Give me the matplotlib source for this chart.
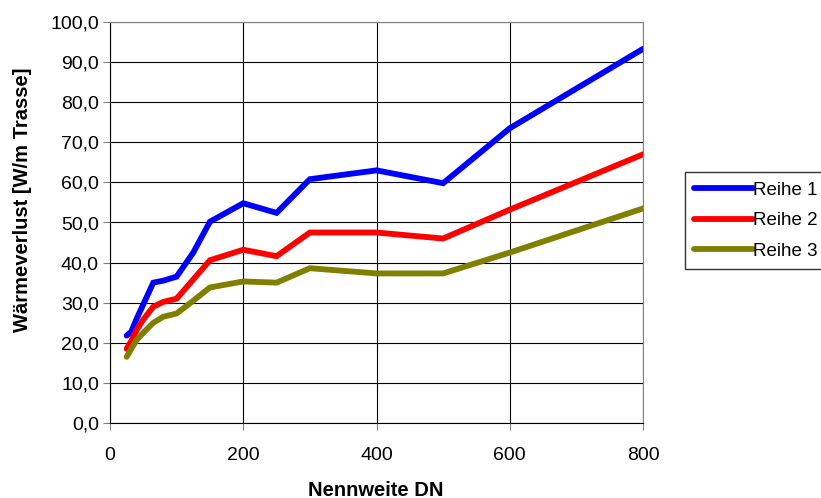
import matplotlib.pyplot as plt
from matplotlib.ticker import FuncFormatter

plt.rcParams['font.family'] = ['Liberation Sans', 'DejaVu Sans']

# Nennweite DN and heat loss per metre of trench for the three series
dn = [25, 32, 40, 50, 65, 80, 100, 125, 150, 200, 250, 300, 400, 500, 600, 800]
reihe_1 = [21.8, 22.8, 26.0, 29.6, 35.0, 35.5, 36.5, 42.5, 50.2, 54.8, 52.4, 60.8, 63.0, 59.8, 73.5, 93.3]
reihe_2 = [18.5, 20.5, 23.2, 25.8, 29.0, 30.2, 31.0, 35.8, 40.6, 43.2, 41.6, 47.5, 47.5, 46.0, 53.2, 67.0]
reihe_3 = [16.5, 18.5, 20.7, 22.5, 25.0, 26.5, 27.3, 30.5, 33.8, 35.3, 35.0, 38.6, 37.3, 37.3, 42.5, 53.5]

series = [('Reihe 1', reihe_1, '#0000ff'),
          ('Reihe 2', reihe_2, '#ff0000'),
          ('Reihe 3', reihe_3, '#808000')]

fig = plt.figure(figsize=(8.21, 4.98), dpi=100)
ax = fig.add_axes([110 / 821, 1 - 423 / 498, 533 / 821, 401 / 498])

for name, values, color in series:
    ax.plot(dn, values, color=color, lw=4.2, label=name,
            solid_capstyle='round', solid_joinstyle='miter')

ax.set_xlim(0, 800)
ax.set_ylim(0, 100)
ax.set_xticks([0, 200, 400, 600, 800])
ax.set_yticks(range(0, 101, 10))
# German decimal comma on the y axis
ax.yaxis.set_major_formatter(FuncFormatter(lambda v, p: f'{v:.1f}'.replace('.', ',')))

ax.grid(True, color='black', lw=0.8)
ax.set_axisbelow(True)
for side in ['top', 'right']:
    ax.spines[side].set_color('#808080')
for side in ['left', 'bottom']:
    ax.spines[side].set_color('black')
ax.tick_params(axis='both', labelsize=14, length=5, color='#808080')
ax.tick_params(axis='x', pad=12)
ax.tick_params(axis='y', pad=3)

fig.text(376 / 821, 1 - 490 / 498, 'Nennweite DN', ha='center', va='center',
         fontsize=14.5, fontweight='bold')
fig.text(23 / 821, 1 - 200 / 498, 'Wärmeverlust [W/m Trasse]', ha='center', va='center',
         rotation=90, fontsize=14.5, fontweight='bold')

leg = ax.legend(loc='upper left', bbox_to_anchor=(685 / 821, 1 - 172 / 498),
                bbox_transform=fig.transFigure, fontsize=13.5, frameon=True,
                fancybox=False, handlelength=3.1, handletextpad=0.05,
                labelspacing=0.72, borderpad=0.5, borderaxespad=0)
leg.get_frame().set_edgecolor('black')
leg.get_frame().set_linewidth(1)

fig.savefig('out.png', dpi=100)
